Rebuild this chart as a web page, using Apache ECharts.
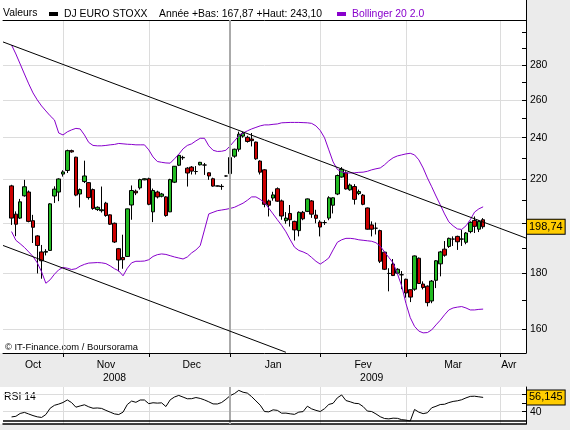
<!DOCTYPE html>
<html>
<head>
<meta charset="utf-8">
<script src="https://cdn.jsdelivr.net/npm/echarts@6/dist/echarts.min.js"></script>
<style>
  html, body { margin: 0; padding: 0; background: #ebebeb; }
  #chart { width: 570px; height: 430px; }
</style>
</head>
<body>
<div id="chart"></div>
<script>
// trading days on the axis: weekdays minus exchange holidays
const firstDay = '2008-10-14';
const lastDay = '2009-04-09';
const holidays = ['2008-12-24', '2008-12-25', '2008-12-26', '2008-12-31', '2009-01-01'];

const monthStarts = ['2008-11-03', '2008-12-01', '2009-01-02', '2009-02-02', '2009-03-02', '2009-04-01'];
const yearStart = '2009-01-02';
const monthLabelDays = ['2008-10-23', '2008-11-17', '2008-12-15', '2009-01-16', '2009-02-16', '2009-03-17', '2009-04-03'];
const monthNames = ['Oct', 'Nov', 'Dec', 'Jan', 'Fev', 'Mar', 'Avr'];
const yearLabelDays = ['2008-11-19', '2009-02-18'];
const yearNames = ['2008', '2009'];

// DJ EURO STOXX, one candle per day from 16/10/2008 to 26/03/2009
const candleStart = '2008-10-16';
const opens = [
  216.7, 204.1, 202.4, 212.2, 213.9, 201.3, 194.9, 188.4, 188.3, 189.0,
  212.1, 213.9, 222.2, 223.9, 233.5, 230.3, 213.0, 218.7, 218.2, 215.0,
  206.1, 205.6, 208.9, 203.8, 200.2, 189.7, 186.2, 186.6, 208.1, 214.3,
  215.8, 219.5, 220.0, 205.1, 213.9, 212.0, 211.7, 205.1, 218.4, 226.4,
  230.0, 225.0, 225.5, 223.4, 226.6, 226.5, 222.8, 220.0, 216.6, 216.5,
  221.3, 222.4, 230.8, 234.2, 240.8, 240.2, 239.3, 237.8, 228.4, 224.2,
  209.9, 211.2, 215.4, 209.9, 201.3, 204.4, 201.0, 197.1, 204.9, 205.3,
  209.9, 203.7, 200.7, 200.5, 202.4, 208.0, 213.0, 220.8, 222.8, 214.9,
  216.4, 213.2, 212.5, 206.8, 199.5, 198.1, 197.1, 188.3, 180.0, 183.6,
  180.1, 179.5, 177.8, 173.9, 174.1, 185.9, 176.0, 175.2, 169.8, 177.4,
  183.7, 189.5, 190.6, 193.6, 194.7, 193.6, 192.3, 196.7, 201.4, 197.7,
  201.7
];
const closes = [
  202.4, 199.8, 209.5, 216.3, 201.0, 198.5, 191.0, 184.9, 188.6, 208.6,
  215.2, 219.9, 223.2, 233.5, 232.9, 212.5, 215.0, 221.3, 211.4, 206.6,
  207.1, 206.0, 203.5, 199.8, 192.4, 185.2, 185.3, 206.4, 214.6, 213.5,
  219.6, 220.0, 208.4, 214.6, 211.7, 213.0, 203.5, 219.6, 225.9, 231.2,
  230.2, 222.7, 223.6, 223.4, 227.8, 226.5, 221.3, 216.6, 216.7, 216.4,
  221.3, 230.1, 234.2, 241.8, 242.2, 238.1, 238.5, 229.5, 223.1, 208.4,
  208.0, 212.6, 209.8, 203.3, 202.4, 201.7, 197.4, 204.9, 202.1, 210.8,
  204.1, 202.3, 198.6, 200.5, 211.3, 211.3, 221.5, 224.5, 215.3, 217.1,
  210.6, 214.1, 208.4, 197.7, 197.7, 198.1, 184.7, 181.6, 180.0, 179.2,
  181.6, 179.5, 172.7, 171.2, 186.8, 176.2, 174.7, 169.2, 177.1, 184.9,
  188.4, 187.1, 193.9, 193.6, 192.5, 193.6, 196.1, 200.6, 198.9, 201.0,
  198.74
];
const lows = [
  199.5, 194.8, 202.0, 211.8, 200.6, 192.0, 180.0, 178.0, 187.0, 188.8,
  209.0, 209.8, 221.0, 222.7, 232.5, 212.0, 207.0, 218.0, 210.5, 206.0,
  205.5, 204.8, 203.0, 199.5, 192.0, 180.8, 181.8, 186.5, 201.7, 212.5,
  215.0, 219.3, 208.0, 200.7, 211.0, 211.5, 203.0, 205.0, 218.0, 226.0,
  229.0, 216.4, 222.0, 222.0, 226.3, 221.8, 219.5, 216.3, 216.4, 214.9,
  221.0, 222.0, 230.0, 233.0, 240.0, 237.5, 235.6, 229.0, 222.0, 207.1,
  203.1, 210.0, 209.5, 201.7, 200.0, 198.8, 193.0, 194.7, 201.5, 205.0,
  202.5, 200.2, 194.7, 199.5, 201.5, 204.4, 212.5, 220.5, 215.0, 214.5,
  208.3, 212.5, 208.0, 197.5, 194.7, 195.5, 184.0, 181.3, 173.3, 179.0,
  179.8, 174.1, 171.0, 169.4, 173.5, 176.0, 174.0, 167.87, 169.0, 174.5,
  178.9, 186.5, 190.0, 190.8, 189.2, 190.8, 191.5, 196.0, 196.1, 196.5,
  197.9
];
const highs = [
  217.2, 205.3, 210.8, 219.5, 214.6, 203.8, 195.2, 191.2, 189.5, 208.9,
  216.5, 220.2, 224.0, 234.0, 234.0, 230.5, 215.5, 228.6, 218.5, 215.5,
  207.5, 216.4, 209.5, 204.0, 200.5, 190.0, 195.4, 206.5, 216.9, 215.0,
  220.0, 220.2, 220.5, 215.5, 214.5, 213.5, 212.0, 220.0, 226.0, 231.5,
  231.0, 225.5, 226.0, 226.0, 228.0, 227.5, 223.0, 220.5, 216.9, 217.5,
  221.5, 230.5, 234.5, 243.1, 243.0, 241.0, 242.4, 238.0, 228.8, 224.5,
  210.5, 214.0, 216.0, 210.5, 205.0, 208.1, 201.3, 205.3, 205.5, 211.0,
  210.3, 206.0, 201.5, 201.5, 212.0, 211.5, 222.0, 225.5, 223.5, 217.8,
  217.5, 215.0, 213.0, 207.0, 201.0, 200.5, 197.5, 188.5, 182.0, 185.6,
  182.0, 180.9, 178.0, 174.0, 187.0, 186.2, 177.0, 175.5, 177.5, 185.2,
  188.8, 192.8, 194.2, 194.7, 195.0, 197.4, 196.5, 201.0, 203.1, 201.5,
  202.4
];

// Bollinger 20 2.0, upper and lower bands
const bollUpper = [
  292.1, 286.6, 280.6, 274.7, 269.0, 263.9, 260.0, 256.7, 254.0, 251.4,
  249.2, 242.4, 241.4, 243.0, 244.0, 244.8, 244.5, 241.4, 237.6, 236.1,
  235.9, 235.9, 236.1, 236.4, 236.6, 237.1, 236.9, 236.7, 236.6, 236.4,
  236.4, 236.4, 233.9, 230.4, 228.2, 227.8, 227.5, 227.4, 229.5, 231.7,
  234.4, 236.1, 236.9, 238.4, 239.7, 239.7, 235.9, 233.7, 233.1, 233.2,
  233.7, 235.9, 238.4, 240.9, 242.4, 243.5, 244.5, 245.3, 246.1, 246.6,
  246.6, 246.9, 247.1, 247.7, 247.8, 247.9, 247.9, 247.9, 247.8, 247.7,
  247.4, 246.1, 243.7, 240.0, 233.9, 228.0, 224.4, 223.2, 222.7, 222.7,
  222.8, 223.0, 223.1, 223.5, 224.2, 224.7, 225.1, 226.6, 228.5, 230.0,
  230.9, 231.4, 231.9, 232.2, 231.4, 229.0, 225.1, 220.4, 216.3, 212.1,
  208.2, 204.2, 200.8, 199.1, 197.8, 197.6, 199.1, 201.7, 205.0, 206.4,
  207.3
];
const bollLower = [
  196.7, 193.1, 191.7, 190.2, 188.4, 186.6, 184.1, 180.6, 176.3, 177.6,
  179.7, 181.4, 182.3, 182.0, 181.5, 181.8, 182.8, 183.5, 184.0, 184.1,
  184.2, 184.1, 183.8, 182.9, 181.8, 181.0, 179.1, 182.0, 184.1, 184.7,
  184.7, 184.8, 185.3, 186.6, 187.3, 187.6, 187.4, 186.9, 186.4, 186.0,
  185.6, 186.4, 188.0, 189.2, 190.9, 197.4, 204.2, 204.9, 205.6, 205.9,
  206.2, 206.6, 207.1, 208.0, 208.9, 210.2, 211.7, 211.7, 210.6, 209.1,
  206.7, 204.2, 201.7, 199.3, 196.6, 193.3, 190.3, 189.0, 188.4, 187.6,
  186.2, 184.7, 183.6, 184.7, 186.0, 189.2, 192.3, 193.3, 193.9, 193.9,
  193.7, 193.3, 193.1, 192.9, 192.7, 192.1, 190.7, 188.4, 186.2, 184.1,
  179.9, 175.3, 168.9, 163.9, 160.9, 159.3, 158.7, 158.8, 159.7, 161.4,
  163.0, 164.9, 166.6, 167.3, 167.6, 167.8, 167.3, 166.6, 166.6, 166.8,
  166.9
];

// RSI 14
const rsi14 = [
  34.1, 34.8, 38.0, 39.2, 37.4, 35.6, 34.2, 33.5, 36.8, 43.9,
  47.2, 48.6, 50.4, 53.3, 50.3, 45.1, 46.5, 47.8, 45.5, 43.9,
  44.2, 43.7, 41.5, 39.5, 37.5, 36.8, 39.5, 48.1, 52.0, 50.6,
  53.2, 53.2, 49.1, 50.1, 49.7, 50.0, 45.8, 53.4, 56.6, 58.4,
  56.5, 54.6, 54.7, 56.0, 55.0, 53.3, 51.2, 48.8, 48.7, 50.4,
  54.0, 58.2, 60.5, 64.1, 62.0, 61.0, 57.0, 52.2, 47.4, 40.2,
  39.8, 42.1, 41.5, 38.3, 38.4, 37.6, 37.0, 39.5, 40.1, 46.2,
  43.2, 41.5, 40.2, 43.4, 48.2, 49.5, 55.7, 58.9, 52.6, 51.2,
  49.5, 49.1, 45.8, 40.7, 40.2, 37.5, 34.3, 32.3, 31.9, 32.7,
  32.5, 31.0, 30.5, 29.5, 42.5, 39.5, 37.8, 38.8, 44.4, 46.1,
  48.1, 48.4, 50.3, 51.6, 52.3, 53.5, 55.6, 57.3, 57.5, 56.8,
  56.145
];

const priceTicks = [160, 180, 200, 220, 240, 260, 280];
const priceMinorTicks = [170, 190, 210, 230, 250, 270, 290, 300];
const rsiGridTicks = [40, 60];
const rsiMinorTicks = [50];
const rsiLabels = [40];
const rsiFloor = 30;
// channel: [start day, start value, end day, end value]
const channelLines = [
  ['2008-10-14', 294.0, '2009-04-09', 194.0],
  ['2008-10-14', 191.0, '2009-01-21', 152.3]
];

const FONT = 'Liberation Sans, Arial, sans-serif';
const UP = '#22bb22', DOWN = '#cc0000', BOLL = '#8800cc', GRID = '#dcdcdc';
const priceName = 'DJ EURO STOXX', bollName = 'Bollinger 20 2.0';

const dates = [];
for (let d = new Date(firstDay + 'T00:00:00Z'); d <= new Date(lastDay + 'T00:00:00Z'); d.setUTCDate(d.getUTCDate() + 1)) {
  let wd = d.getUTCDay();
  let s = d.toISOString().slice(0, 10);
  if (wd !== 0 && wd !== 6 && holidays.indexOf(s) < 0) dates.push(s);
}
const offset = dates.indexOf(candleStart);
function pad(arr) {
  return dates.map((d, i) => (i - offset >= 0 && i - offset < arr.length) ? arr[i - offset] : '-');
}
const candles = dates.map((d, i) => {
  let k = i - offset;
  return (k >= 0 && k < opens.length) ? [opens[k], closes[k], lows[k], highs[k]] : '-';
});
const fr = (v, n) => v.toFixed(n).replace('.', ',');
const lastPrice = closes[closes.length - 1];
const lastRsi = rsi14[rsi14.length - 1];
const headerInfo = 'Année +Bas: ' + fr(Math.min(...lows), 2) + ' +Haut: ' + fr(Math.max(...highs), 2);

const isMonthStart = (i, v) => monthStarts.indexOf(v) >= 0;
const hidden = {color: 'rgba(0,0,0,0)', width: 1, type: 'solid'};
const valueBox = {
  show: true, position: 'end', distance: 1, color: '#000', fontFamily: FONT, fontSize: 11,
  backgroundColor: '#ffcc00', borderColor: '#000', borderWidth: 1, padding: [2, 2, 1, 2]
};
const txt = {fontFamily: FONT, fontSize: 10.4, color: '#000'};

const option = {
  animation: false,
  backgroundColor: '#ebebeb',
  textStyle: {fontFamily: FONT},
  graphic: [
    {type: 'rect', z: -10, silent: true, shape: {x: 0, y: 0, width: 526, height: 353}, style: {fill: '#fff'}},
    {type: 'rect', z: -10, silent: true, shape: {x: 0, y: 387, width: 526, height: 37}, style: {fill: '#fff'}},
    {type: 'line', silent: true, shape: {x1: 526.5, y1: 0, x2: 526.5, y2: 20}, style: {stroke: '#000', lineWidth: 1}},
    {type: 'text', silent: true, x: 3, y: 13, style: {text: 'Valeurs', font: '10.4px ' + FONT, fill: '#000', verticalAlign: 'middle'}},
    {type: 'text', silent: true, x: 5, y: 347, style: {text: '© IT-Finance.com / Boursorama', font: '9.4px ' + FONT, fill: '#000', verticalAlign: 'middle'}},
    {type: 'text', silent: true, x: 4, y: 397, style: {text: 'RSI 14', font: '10.4px ' + FONT, fill: '#000', verticalAlign: 'middle'}}
  ],
  legend: {
    left: 49, top: 9, padding: 0, itemWidth: 9, itemHeight: 4, itemGap: 15, icon: 'rect', selectedMode: false,
    textStyle: {fontFamily: FONT, fontSize: 10.4, color: '#000', padding: [0, 0, 0, 1]},
    formatter: name => name === priceName ? name + '    ' + headerInfo : name,
    data: [
      {name: priceName, itemStyle: {color: '#000', borderWidth: 0}},
      {name: bollName, itemStyle: {color: BOLL}, textStyle: {color: BOLL}}
    ]
  },
  grid: [
    {left: 3, top: 20, width: 523, height: 333},
    {left: 3, top: 387, width: 523, height: 37}
  ],
  xAxis: [
    {
      gridIndex: 0, type: 'category', data: dates, boundaryGap: false,
      axisLine: {lineStyle: {color: '#000', width: 1}},
      axisTick: {interval: isMonthStart, length: 4, lineStyle: {color: '#000'}},
      axisLabel: Object.assign({
        margin: 7,
        interval: (i, v) => monthLabelDays.indexOf(v) >= 0,
        formatter: v => monthNames[monthLabelDays.indexOf(v)]
      }, txt),
      splitLine: {show: true, interval: isMonthStart, lineStyle: {color: GRID}}
    },
    {
      gridIndex: 0, type: 'category', data: dates, boundaryGap: false, position: 'bottom',
      axisLine: {show: false}, axisTick: {show: false}, splitLine: {show: false},
      axisLabel: Object.assign({
        margin: 20,
        interval: (i, v) => yearLabelDays.indexOf(v) >= 0,
        formatter: v => yearNames[yearLabelDays.indexOf(v)]
      }, txt)
    },
    {
      gridIndex: 0, type: 'category', data: dates, boundaryGap: false, position: 'top',
      axisLine: {lineStyle: {color: '#000'}}, axisTick: {show: false}, axisLabel: {show: false}, splitLine: {show: false}
    },
    {
      gridIndex: 1, type: 'category', data: dates, boundaryGap: false,
      axisLine: {lineStyle: {color: '#000', width: 1.5}}, axisTick: {show: false}, axisLabel: {show: false},
      splitLine: {show: true, interval: isMonthStart, lineStyle: {color: GRID}}
    }
  ],
  yAxis: [
    {
      gridIndex: 0, type: 'log', logBase: 10, min: 152.07, max: 308.0, position: 'right',
      axisLine: {show: true, lineStyle: {color: '#000'}},
      axisTick: {show: true, inside: true, length: 4, customValues: priceTicks, lineStyle: {color: '#000'}},
      axisLabel: Object.assign({customValues: priceTicks, margin: 4, formatter: v => String(Math.round(v))}, txt),
      splitLine: {show: true, lineStyle: {color: GRID}}
    },
    {
      gridIndex: 0, type: 'log', logBase: 10, min: 152.07, max: 308.0, position: 'right',
      axisLine: {show: false},
      axisTick: {show: true, inside: true, length: 4, customValues: priceMinorTicks, lineStyle: {color: '#000'}},
      axisLabel: {show: false}, splitLine: {show: false}
    },
    {
      gridIndex: 1, type: 'value', min: 26.1, max: 67.9, position: 'right',
      axisLine: {show: true, lineStyle: {color: '#000'}},
      axisTick: {show: true, inside: true, length: 4, customValues: rsiGridTicks, lineStyle: {color: '#000'}},
      axisLabel: Object.assign({customValues: rsiLabels, margin: 4}, txt),
      splitLine: {show: true, lineStyle: {color: GRID}}
    },
    {
      gridIndex: 1, type: 'value', min: 26.1, max: 67.9, position: 'right',
      axisLine: {show: false},
      axisTick: {show: true, inside: true, length: 4, customValues: rsiMinorTicks, lineStyle: {color: '#000'}},
      axisLabel: {show: false}, splitLine: {show: false}
    }
  ],
  series: [
    {
      name: bollName, type: 'line', xAxisIndex: 0, yAxisIndex: 0, data: pad(bollUpper),
      showSymbol: false, lineStyle: {color: BOLL, width: 1}, itemStyle: {color: BOLL},
      markLine: {
        silent: true, symbol: ['none', 'none'], label: {show: false},
        lineStyle: {color: '#aaa', width: 2, type: 'solid'},
        data: [{xAxis: yearStart}]
      }
    },
    {
      name: bollName, type: 'line', xAxisIndex: 0, yAxisIndex: 0, data: pad(bollLower),
      showSymbol: false, lineStyle: {color: BOLL, width: 1}, itemStyle: {color: BOLL}
    },
    {
      name: priceName, type: 'candlestick', xAxisIndex: 0, yAxisIndex: 0, data: candles,
      barWidth: 4,
      itemStyle: {color: UP, color0: DOWN, borderColor: '#000', borderColor0: '#000', borderWidth: 1},
      markLine: {
        silent: true, symbol: ['none', 'none'], label: {show: false},
        lineStyle: {color: '#000', width: 1, type: 'solid'},
        data: channelLines.map(c => [{coord: [c[0], c[1]]}, {coord: [c[2], c[3]]}]).concat([
          {yAxis: lastPrice, lineStyle: hidden, label: Object.assign({formatter: () => fr(lastPrice, 2)}, valueBox)}
        ])
      }
    },
    {
      name: 'RSI 14', type: 'line', xAxisIndex: 3, yAxisIndex: 2, data: pad(rsi14),
      showSymbol: false, lineStyle: {color: '#000', width: 1}, itemStyle: {color: '#000'},
      markLine: {
        silent: true, symbol: ['none', 'none'], label: {show: false},
        data: [
          {xAxis: yearStart, lineStyle: {color: '#aaa', width: 2, type: 'solid'}},
          {yAxis: rsiFloor, lineStyle: {color: '#000', width: 1.5, type: 'solid'}},
          {yAxis: lastRsi, lineStyle: hidden, label: Object.assign({formatter: () => fr(lastRsi, 3)}, valueBox)}
        ]
      }
    }
  ]
};

const chart = echarts.init(document.getElementById('chart'));
chart.setOption(option);
</script>
</body>
</html>
